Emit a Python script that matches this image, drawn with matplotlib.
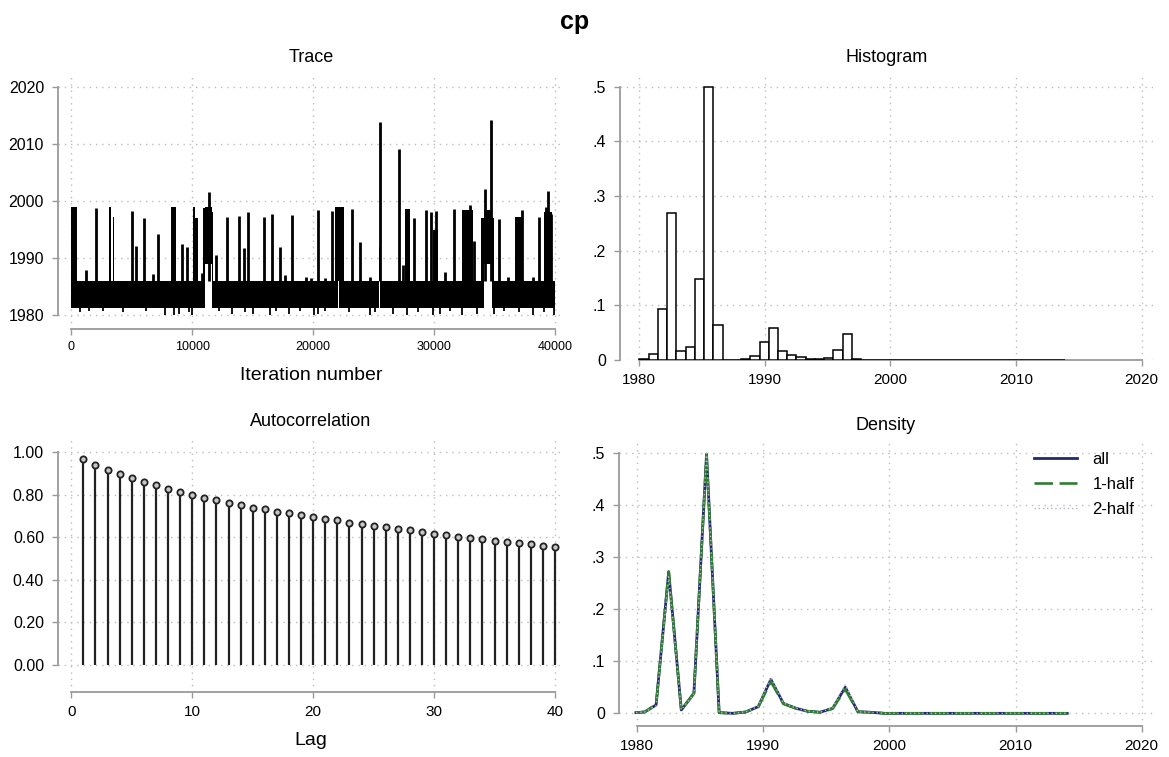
import matplotlib
matplotlib.use("Agg")
import matplotlib.pyplot as plt
import numpy as np

plt.rcParams['font.family'] = ['Liberation Sans', 'DejaVu Sans']

W, H = 1169, 757

# ---- trace: envelope of the chain ----
trace_n = 40000
trace_band = (1981.3, 1986.0)
trace_gaps = [(11050, 11600), (22030, 22110), (25480, 25560), (34150, 34800)]
# (start, end, low, high)
trace_clusters = [
    (0, 480, 1985.0, 1998.9),
    (3100, 3280, 1986.0, 1999.0),
    (3420, 3560, 1986.0, 1997.2),
    (8250, 8630, 1986.0, 1998.9),
    (10030, 10250, 1986.0, 1999.0),
    (10250, 10500, 1986.0, 1997.0),
    (10850, 11050, 1986.0, 1998.8),
    (11050, 11600, 1989.0, 1999.0),
    (11600, 11700, 1986.0, 1998.0),
    (21800, 22550, 1986.0, 1999.0),
    (25420, 25640, 1986.0, 1992.0),
    (27600, 28000, 1986.0, 1998.6),
    (29950, 30300, 1986.0, 1995.0),
    (32270, 33250, 1986.0, 1998.5),
    (33850, 34150, 1986.0, 1997.0),
    (34150, 34800, 1989.0, 1998.5),
    (34800, 34950, 1986.0, 1997.0),
    (36690, 37240, 1986.0, 1997.2),
    (39070, 39750, 1986.0, 1998.0),
]
# (iteration, top)
trace_spikes = [
    (1210, 1987.9), (2035, 1998.8), (5040, 1998.3), (5372, 1992.2),
    (6034, 1997.0), (6720, 1987.2), (7135, 1994.3), (9175, 1992.5),
    (9530, 1992.0), (10780, 1987.4), (11380, 2001.5), (11930, 1990.6),
    (12840, 1997.2), (13890, 1997.3), (14280, 1991.8), (14630, 1998.0),
    (15960, 1997.2), (16620, 1997.7), (17250, 1992.0), (17690, 1987.0),
    (18220, 1997.5), (19380, 1986.7), (19800, 1986.6), (20420, 1998.4),
    (21000, 1986.6), (21530, 1998.3), (23230, 1998.6), (23870, 1992.9),
    (24700, 1986.7), (25530, 2013.9), (27100, 2009.1), (27450, 1988.8),
    (28340, 1997.1), (29330, 1998.4), (29720, 1998.1), (30130, 1998.3),
    (30900, 1987.6), (31650, 1998.6), (32970, 1999.3), (33300, 1993.0),
    (34250, 2002.1), (34710, 2014.2), (35370, 1996.9), (36100, 1986.8),
    (37300, 1998.5), (38200, 1986.8), (38710, 1997.2), (39230, 1999.0),
    (39450, 2001.8), (39690, 1997.8),
]
# (iteration, low)
trace_dips = [
    (700, 1980.6), (1500, 1980.8), (2600, 1980.7), (4300, 1980.6),
    (6200, 1980.8), (7710, 1980.1), (8475, 1980.0), (8935, 1980.2),
    (9700, 1980.6), (10005, 1980.1), (12200, 1980.7), (13310, 1980.2),
    (14400, 1980.6), (15055, 1980.2), (16435, 1980.1), (16900, 1980.7),
    (17965, 1980.2), (18900, 1980.7), (20105, 1980.0), (20410, 1980.3),
    (21000, 1980.7), (23000, 1980.6), (24695, 1980.1), (25100, 1980.6),
    (26590, 1980.2), (27755, 1980.1), (28700, 1980.6), (29895, 1980.1),
    (30505, 1980.2), (31300, 1980.7), (32340, 1980.1), (33565, 1980.2),
    (34950, 1980.3), (35800, 1980.7), (37000, 1980.6), (38155, 1980.1),
    (39100, 1980.6), (39900, 1980.0),
]

# ---- histogram (density scale) ----
hist_start = 1980.04
hist_width = 0.7355
hist_heights = [
    0.0015, 0.0104, 0.093, 0.2695, 0.017, 0.023, 0.148, 0.500, 0.064,
    0.0006, 0.0003, 0.001, 0.0073, 0.0335, 0.0585, 0.017, 0.0085, 0.0049,
    0.002, 0.0012, 0.004, 0.019, 0.048, 0.0024, 0.0008, 0.0004, 0.0003,
    0.0003, 0.0002, 0.0002, 0.0002, 0.0002, 0.0002, 0.0002, 0.0002, 0.0002,
    0.0002, 0.0002, 0.0002, 0.0002, 0.0002, 0.0002, 0.0002, 0.0002, 0.0002,
    0.0002,
]

# ---- density ----
dens_x = [1979.9, 1980.6, 1981.5, 1982.5, 1983.5, 1984.5, 1985.5, 1986.5,
          1987.6, 1988.6, 1989.6, 1990.6, 1991.6, 1992.6, 1993.5, 1994.5,
          1995.5, 1996.5, 1997.5, 1998.5, 1999.6, 2002.0, 2006.0, 2010.0,
          2014.1]
dens_all = [0.0013, 0.0026, 0.016, 0.271, 0.0064, 0.038, 0.497, 0.0013,
            0.0, 0.0026, 0.0128, 0.065, 0.019, 0.0096, 0.004, 0.002,
            0.0096, 0.050, 0.003, 0.002, 0.0, 0.0, 0.0, 0.0, 0.0]
dens_h1 = [0.0013, 0.0026, 0.017, 0.272, 0.0060, 0.039, 0.495, 0.0013,
           0.0, 0.0024, 0.012, 0.061, 0.018, 0.0094, 0.004, 0.002,
           0.0090, 0.046, 0.003, 0.002, 0.0, 0.0, 0.0, 0.0, 0.0]
dens_h2 = [0.0013, 0.0026, 0.015, 0.262, 0.0068, 0.037, 0.499, 0.0013,
           0.0, 0.0028, 0.0135, 0.069, 0.020, 0.0098, 0.004, 0.002,
           0.0102, 0.055, 0.003, 0.002, 0.0, 0.0, 0.0, 0.0, 0.0]

# ---- autocorrelation ----
acf_lags = list(range(1, 41))
acf_vals = [0.967, 0.940, 0.917, 0.898, 0.877, 0.860, 0.843, 0.825, 0.811,
            0.797, 0.783, 0.772, 0.759, 0.750, 0.739, 0.730, 0.720, 0.711,
            0.703, 0.693, 0.686, 0.678, 0.668, 0.660, 0.653, 0.645, 0.638,
            0.631, 0.623, 0.616, 0.608, 0.602, 0.596, 0.590, 0.583, 0.577,
            0.571, 0.566, 0.560, 0.555]

AXIS_COL = '#9a9a9a'
GRID_COL = '#bdbdbd'

fig = plt.figure(figsize=(W / 100, H / 100), dpi=100)
fig.patch.set_facecolor('white')


def box_axes(left, top, right, bottom):
    return fig.add_axes([left / W, 1 - bottom / H, (right - left) / W, (bottom - top) / H])


def stata_style(ax, xb, yb, xsize, ysize=11.5):
    ax.spines['top'].set_visible(False)
    ax.spines['right'].set_visible(False)
    ax.spines['left'].set_bounds(*yb)
    ax.spines['bottom'].set_bounds(*xb)
    for s in ['left', 'bottom']:
        ax.spines[s].set_color(AXIS_COL)
        ax.spines[s].set_linewidth(1.3)
    ax.tick_params(axis='both', length=4, width=1.0, color=AXIS_COL)
    ax.tick_params(axis='x', labelsize=xsize, pad=5)
    ax.tick_params(axis='y', labelsize=ysize, pad=6)
    ax.grid(True, linestyle=(0, (1, 3.5)), color=GRID_COL, linewidth=1.0)
    ax.set_axisbelow(True)


def frac_labels(vals):
    out = []
    for v in vals:
        s = ('%g' % v)
        out.append(s[1:] if s.startswith('0.') else s)
    return out


# ---------- Trace ----------
ax1 = box_axes(58, 75, 564, 329)
edges = [0]
for g in trace_gaps:
    edges += [g[0], g[1]]
edges.append(trace_n)
for i in range(0, len(edges), 2):
    ax1.fill_between([edges[i], edges[i + 1]], trace_band[0], trace_band[1],
                     color='black', linewidth=0)
for s, e, lo, hi in trace_clusters:
    ax1.fill_between([s, e], lo, hi, color='black', linewidth=0)
ax1.vlines([p[0] for p in trace_spikes], trace_band[1], [p[1] for p in trace_spikes],
           color='black', linewidth=2.0)
ax1.vlines([d[0] for d in trace_dips], [d[1] for d in trace_dips], trace_band[0] + 0.3,
           color='black', linewidth=1.3)
ax1.set_xlim(-1100, 40744)
ax1.set_ylim(1977.62, 2022.04)
ax1.set_xticks([0, 10000, 20000, 30000, 40000])
ax1.set_yticks([1980, 1990, 2000, 2010, 2020])
stata_style(ax1, (0, 40000), (1980, 2020), 9)
ax1.set_xlabel('Iteration number', fontsize=14, labelpad=10)
ax1.set_title('Trace', fontsize=13, pad=9)

# ---------- Histogram ----------
ax2 = box_axes(620, 75, 1153, 360)
lefts = [hist_start + i * hist_width for i in range(len(hist_heights))]
ax2.bar(lefts, hist_heights, width=hist_width, align='edge',
        facecolor='white', edgecolor='black', linewidth=1.1, zorder=3)
ax2.set_xlim(1978.50, 2020.91)
ax2.set_ylim(0, 0.5214)
ax2.set_xticks([1980, 1990, 2000, 2010, 2020])
yt = [0, 0.1, 0.2, 0.3, 0.4, 0.5]
ax2.set_yticks(yt)
ax2.set_yticklabels(frac_labels(yt))
stata_style(ax2, (1980, 2020), (0, 0.5), 11)
ax2.set_title('Histogram', fontsize=13, pad=9)

# ---------- Autocorrelation ----------
ax3 = box_axes(58, 438, 564, 692)
ax3.vlines(acf_lags, 0, acf_vals, color='#222222', linewidth=1.6)
ax3.plot(acf_lags, acf_vals, 'o', markersize=4.5, markerfacecolor='#c8c8c8',
         markeredgecolor='#222222', markeredgewidth=1.3)
ax3.set_xlim(-1.1, 40.74)
ax3.set_ylim(-0.129, 1.066)
ax3.set_xticks([0, 10, 20, 30, 40])
ax3.set_yticks([0, 0.2, 0.4, 0.6, 0.8, 1.0])
ax3.set_yticklabels(['%.2f' % v for v in [0, 0.2, 0.4, 0.6, 0.8, 1.0]])
stata_style(ax3, (0, 40), (0, 1), 11)
ax3.set_xlabel('Lag', fontsize=14, labelpad=10)
ax3.set_title('Autocorrelation', fontsize=13, pad=9)

# ---------- Density ----------
ax4 = box_axes(619, 442, 1153, 726)
ax4.plot(dens_x, dens_all, color='#1f2a6b', linewidth=2.0, label='all')
ax4.plot(dens_x, dens_h1, color='#2f7d32', linewidth=1.9, dashes=(7, 2.5), label='1-half')
ax4.plot(dens_x, dens_h2, color='#b4b4c0', linewidth=1.0, linestyle=(0, (1, 2)), label='2-half')
ax4.set_xlim(1978.56, 2020.9)
ax4.set_ylim(-0.0243, 0.5203)
ax4.set_xticks([1980, 1990, 2000, 2010, 2020])
ax4.set_yticks(yt)
ax4.set_yticklabels(frac_labels(yt))
stata_style(ax4, (1980, 2020), (0, 0.5), 11)
ax4.set_title('Density', fontsize=13, pad=9)
fig.legend(*ax4.get_legend_handles_labels(), loc='upper left',
           bbox_to_anchor=(1034 / W, 1 - 452 / H), frameon=False, fontsize=12,
           handlelength=2.6, handletextpad=0.9, labelspacing=0.6,
           borderpad=0, borderaxespad=0)

fig.suptitle('cp', x=575 / W, y=1 - 22 / H, va='center', fontsize=18, fontweight='bold')

fig.savefig('out.png', dpi=100)
